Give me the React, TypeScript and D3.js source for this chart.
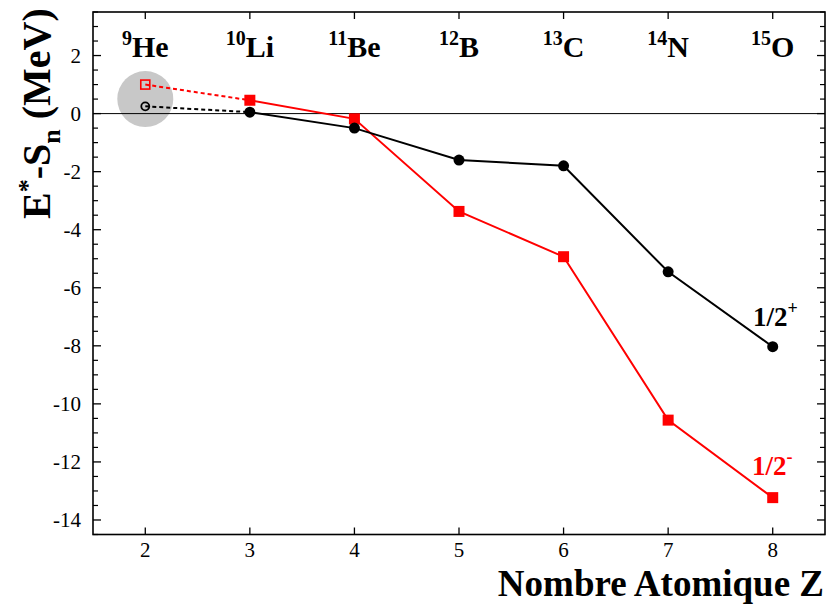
import React from "react";
import * as d3 from "d3";

const zValues = [3, 4, 5, 6, 7, 8];
const plusValues = [0.05, -0.5, -1.6, -1.8, -5.45, -8.03];
const minusValues = [0.46, -0.18, -3.37, -4.93, -10.56, -13.23];
const heZ = 2;
const hePlus = 0.25;
const heMinus = 1.0;
const heCircleY = 0.5;

const nucleiZ = [2, 3, 4, 5, 6, 7, 8];
const massNumbers = ["9", "10", "11", "12", "13", "14", "15"];
const symbols = ["He", "Li", "Be", "B", "C", "N", "O"];

const xTicks = [2, 3, 4, 5, 6, 7, 8];
const yTicks = [2, 0, -2, -4, -6, -8, -10, -12, -14];

const W = 827;
const H = 606;
const L = 93, R = 825, T = 12, B = 534.5;
const FONT = "Liberation Serif, DejaVu Serif, serif";
const fs = (size: number, bold = false) => ({
  fontFamily: FONT,
  fontSize: size + "px",
  fontWeight: bold ? 700 : 400,
});

export default function App() {
  const x = d3.scaleLinear().domain([1.5, 8.5]).range([L, R]);
  const y = d3.scaleLinear().domain([-14.5, 3.5]).range([B, T]);
  const minorY = d3.range(-14.5, 3.51, 0.5).filter((v) => Math.abs(v % 2) > 1e-6);
  const line = d3
    .line<[number, number]>()
    .x((d) => x(d[0]))
    .y((d) => y(d[1]));
  const plusPts = zValues.map((z, i) => [z, plusValues[i]] as [number, number]);
  const minusPts = zValues.map((z, i) => [z, minusValues[i]] as [number, number]);

  return (
    <svg
      width={W}
      height={H}
      style={{ position: "absolute", left: 0, top: 0, background: "#fff", fontFamily: FONT }}
    >
      <rect x={0} y={0} width={W} height={H} fill="#fff" />
      {/* grey circle */}
      <circle cx={x(heZ)} cy={y(heCircleY)} r={28} fill="#c8c8c8" />
      {/* zero line */}
      <line x1={L} x2={R} y1={y(0)} y2={y(0)} stroke="#000" strokeWidth={1} />

      {/* ticks */}
      {yTicks.map((t) => (
        <g key={"yt" + t}>
          <line x1={L} x2={L + 8} y1={y(t)} y2={y(t)} stroke="#000" strokeWidth={1.3} />
          <line x1={R} x2={R - 8} y1={y(t)} y2={y(t)} stroke="#000" strokeWidth={1.3} />
          <text x={81} y={y(t) + 7} textAnchor="end" style={fs(21)}>
            {t}
          </text>
        </g>
      ))}
      {minorY.map((t) => (
        <g key={"ym" + t}>
          <line x1={L} x2={L + 5} y1={y(t)} y2={y(t)} stroke="#000" strokeWidth={1.2} />
          <line x1={R} x2={R - 5} y1={y(t)} y2={y(t)} stroke="#000" strokeWidth={1.2} />
        </g>
      ))}
      {xTicks.map((t) => (
        <g key={"xt" + t}>
          <line x1={x(t)} x2={x(t)} y1={B} y2={B - 7} stroke="#000" strokeWidth={1.3} />
          <line x1={x(t)} x2={x(t)} y1={T} y2={T + 7} stroke="#000" strokeWidth={1.3} />
          <text x={x(t)} y={557} textAnchor="middle" style={fs(21)}>
            {t}
          </text>
        </g>
      ))}

      {/* frame */}
      <rect x={L} y={T} width={R - L} height={B - T} fill="none" stroke="#000" strokeWidth={1.6} />

      {/* dotted extrapolations */}
      <line
        x1={x(heZ)} y1={y(heMinus)} x2={x(zValues[0])} y2={y(minusValues[0])}
        stroke="#ff0000" strokeWidth={2} strokeDasharray="4,3"
      />
      <line
        x1={x(heZ)} y1={y(hePlus)} x2={x(zValues[0])} y2={y(plusValues[0])}
        stroke="#000" strokeWidth={2} strokeDasharray="4,3"
      />

      {/* series lines */}
      <path d={line(minusPts) || ""} fill="none" stroke="#ff0000" strokeWidth={2} />
      <path d={line(plusPts) || ""} fill="none" stroke="#000" strokeWidth={2} />

      {/* markers */}
      {minusPts.map((p, i) => (
        <rect key={"ms" + i} x={x(p[0]) - 5.5} y={y(p[1]) - 5.5} width={11} height={11} fill="#ff0000" />
      ))}
      {plusPts.map((p, i) => (
        <circle key={"pc" + i} cx={x(p[0])} cy={y(p[1])} r={5.5} fill="#000" />
      ))}
      <rect
        x={x(heZ) - 4.5} y={y(heMinus) - 4.5} width={9} height={9}
        fill="none" stroke="#ff0000" strokeWidth={1.6}
      />
      <circle cx={x(heZ)} cy={y(hePlus)} r={4} fill="none" stroke="#000" strokeWidth={1.8} />

      {/* nuclei labels */}
      {nucleiZ.map((z, i) => (
        <text key={"nl" + i} x={x(z)} y={57} textAnchor="middle" style={fs(30, true)}>
          <tspan style={fs(20, true)} dy={-12}>{massNumbers[i]}</tspan>
          <tspan dy={12}>{symbols[i]}</tspan>
        </text>
      ))}

      {/* legend labels */}
      <text x={753} y={326} style={fs(27, true)} fill="#000">
        1/2<tspan style={fs(18, true)} dy={-12}>+</tspan>
      </text>
      <text x={752} y={475} style={fs(27, true)} fill="#ff0000">
        1/2<tspan style={fs(18, true)} dy={-12}>-</tspan>
      </text>

      {/* axis titles */}
      <text
        transform={`translate(50,${y(0)}) rotate(-90)`}
        textAnchor="middle"
        style={fs(40, true)}
      >
        E<tspan style={fs(26, true)} dy={-14}>*</tspan>
        <tspan dy={14}>-S</tspan>
        <tspan style={fs(26, true)} dy={10}>n</tspan>
        <tspan dy={-10}> (MeV)</tspan>
      </text>
      <text x={824} y={596} textAnchor="end" style={fs(37, true)}>
        Nombre Atomique Z
      </text>
    </svg>
  );
}
